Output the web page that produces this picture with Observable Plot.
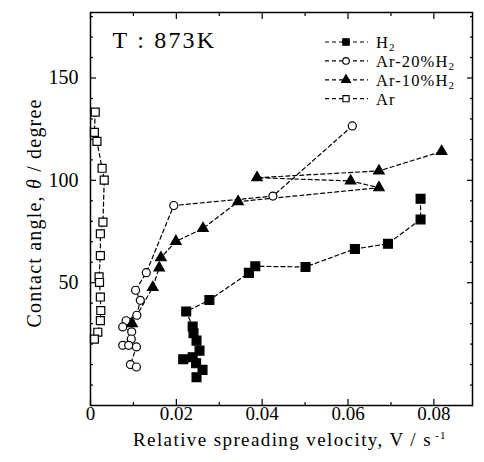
<!DOCTYPE html>
<html><head><meta charset="utf-8">
<script src="https://cdn.jsdelivr.net/npm/d3@7"></script>
<script src="https://cdn.jsdelivr.net/npm/@observablehq/plot@0.6"></script>
<style>body{margin:0;background:#fff} svg{display:block}</style>
</head><body><div id="chart"></div>
<script>
// ---- data ----
const seriesNames = ["H2", "Ar-20%H2", "Ar-10%H2", "Ar"];

const h2X = [0.0769, 0.0769, 0.0693, 0.0616, 0.0501, 0.0384, 0.0369, 0.0277, 0.0223, 0.0238, 0.0240, 0.0247, 0.0254, 0.0238, 0.0216, 0.0246, 0.0261, 0.0247];
const h2Y = [91.0, 80.9, 69.0, 66.5, 57.7, 58.0, 54.8, 41.5, 35.9, 28.6, 25.3, 21.7, 16.8, 13.6, 12.6, 10.6, 7.4, 3.8];

const ar20X = [0.0610, 0.0425, 0.0194, 0.0130, 0.0105, 0.0116, 0.0108, 0.0083, 0.0075, 0.0096, 0.0095, 0.0075, 0.0089, 0.0107, 0.0093, 0.0107];
const ar20Y = [126.6, 92.3, 87.7, 54.9, 46.3, 41.4, 34.1, 31.4, 28.4, 26.0, 22.5, 19.4, 19.4, 18.6, 10.0, 8.8];

const ar10X = [0.0097, 0.0145, 0.0160, 0.0164, 0.0199, 0.0262, 0.0344, 0.0672, 0.0606, 0.0388, 0.0672, 0.0818];
const ar10Y = [30.0, 47.7, 57.2, 62.2, 70.2, 76.5, 89.6, 96.4, 99.7, 101.3, 104.6, 114.1];

const arX = [0.0011, 0.0009, 0.0015, 0.0027, 0.0032, 0.0029, 0.0023, 0.0023, 0.0020, 0.0021, 0.0023, 0.0024, 0.0023, 0.0017, 0.0009];
const arY = [133.3, 123.4, 119.0, 105.9, 100.1, 79.6, 73.9, 63.2, 52.8, 50.1, 43.0, 36.4, 31.5, 25.8, 22.4];

const xMajor = [0, 0.02, 0.04, 0.06, 0.08];
const xTickLabels = ["0", "0.02", "0.04", "0.06", "0.08"];
const xMinor = [0.01, 0.03, 0.05, 0.07];
const yMajor = [50, 100, 150];
const yTickLabels = ["50", "100", "150"];
const yMinor = [-10, 0, 10, 20, 30, 40, 60, 70, 80, 90, 110, 120, 130, 140, 160, 170, 180];

const tempLabel = "T : 873K";
const xTitle = "Relative spreading velocity, V / s";
const yTitleA = "Contact angle, ", yTitleTheta = "θ", yTitleB = " / degree";

// ---- build table ----
const data = [];
function add(name, xs, ys) { xs.forEach((x, i) => data.push({series: name, x, y: ys[i]})); }
add("H2", h2X, h2Y);
add("Ar-20%H2", ar20X, ar20Y);
add("Ar-10%H2", ar10X, ar10Y);
add("Ar", arX, arY);

const styles = {
  "H2": {symbol: "square", fill: "black", r: 5},
  "Ar-20%H2": {symbol: "circle", fill: "white", r: 4},
  "Ar-10%H2": {symbol: "triangle", fill: "black", r: 3.9},
  "Ar": {symbol: "square", fill: "white", r: 4.5}
};

const FONT = '"Liberation Serif", "Times New Roman", serif';

const marks = [
  Plot.line(data, {x: "x", y: "y", z: "series", stroke: "black", strokeWidth: 1.2, strokeDasharray: "4,3"}),
  ...seriesNames.map(s => Plot.dot(data.filter(d => d.series === s), {
    x: "x", y: "y", symbol: styles[s].symbol, r: styles[s].r, fill: styles[s].fill, stroke: "black", strokeWidth: 1.2
  })),
  // tick labels
  Plot.axisX({ticks: xMajor, tickSize: 0, tickPadding: 1, fontSize: 19, tickFormat: d => xTickLabels[xMajor.indexOf(d)], label: null}),
  Plot.axisY({ticks: yMajor, tickSize: 0, tickPadding: 12, fontSize: 20, tickFormat: d => yTickLabels[yMajor.indexOf(d)], label: null}),
  // inward ticks, all four sides
  Plot.axisX({ticks: xMajor, tickSize: -6, tickFormat: () => "", label: null, strokeWidth: 1.2}),
  Plot.axisX({ticks: xMinor, tickSize: -3, tickFormat: () => "", label: null, strokeWidth: 1.2}),
  Plot.axisX({anchor: "top", ticks: xMajor, tickSize: -6, tickFormat: () => "", label: null, strokeWidth: 1.2}),
  Plot.axisX({anchor: "top", ticks: xMinor, tickSize: -3, tickFormat: () => "", label: null, strokeWidth: 1.2}),
  Plot.axisY({ticks: yMajor, tickSize: -6, tickFormat: () => "", label: null, strokeWidth: 1.2}),
  Plot.axisY({ticks: yMinor, tickSize: -3, tickFormat: () => "", label: null, strokeWidth: 1.2}),
  Plot.axisY({anchor: "right", ticks: yMajor, tickSize: -6, tickFormat: () => "", label: null, strokeWidth: 1.2}),
  Plot.axisY({anchor: "right", ticks: yMinor, tickSize: -3, tickFormat: () => "", label: null, strokeWidth: 1.2}),
  Plot.frame({stroke: "black", strokeWidth: 1.5}),
  Plot.text([tempLabel], {frameAnchor: "top-left", dx: 22, dy: 28, text: d => d, textAnchor: "start", lineAnchor: "middle", fontSize: 24, fill: "black"})
];

const chart = Plot.plot({
  width: 484, height: 462,
  marginLeft: 90, marginRight: 12, marginTop: 12, marginBottom: 57,
  x: {domain: [0, 0.089]},
  y: {domain: [-10, 182]},
  style: {fontFamily: FONT, fontSize: "20px", background: "white", color: "black"},
  marks
});
document.getElementById("chart").appendChild(chart);

// ---- legend, axis titles ----
const svg = d3.select(chart);
svg.selectAll("text").filter(function(){ return this.textContent === tempLabel; }).attr("letter-spacing", 2.2);

const lg = svg.append("g").attr("font-family", FONT).attr("font-size", 16.5).attr("fill", "black").attr("text-anchor", "start");
const legendSize = {"H2": 42, "Ar-20%H2": 34, "Ar-10%H2": 34, "Ar": 38};
const symMap = {square: d3.symbolSquare, circle: d3.symbolCircle, triangle: d3.symbolTriangle};
seriesNames.forEach((s, i) => {
  const cy = 42 + i * 18.9;
  lg.append("line").attr("x1", 325).attr("x2", 368).attr("y1", cy).attr("y2", cy)
    .attr("stroke", "black").attr("stroke-width", 1.2).attr("stroke-dasharray", "4,3");
  lg.append("path").attr("transform", `translate(346,${cy})`)
    .attr("d", d3.symbol(symMap[styles[s].symbol], legendSize[s])())
    .attr("fill", styles[s].fill).attr("stroke", "black").attr("stroke-width", 1.1);
  const t = lg.append("text").attr("x", 376).attr("y", cy + 6).attr("letter-spacing", 1.1);
  if (s.endsWith("H2")) {
    t.append("tspan").text(s.slice(0, -1));
    t.append("tspan").attr("font-size", 11).attr("dy", 3).text("2");
  } else {
    t.text(s);
  }
});

const xt = svg.append("text").attr("x", 290).attr("y", 446).attr("text-anchor", "middle")
  .attr("font-family", FONT).attr("font-size", 19).attr("letter-spacing", 1.4).attr("fill", "black");
xt.append("tspan").text(xTitle);
xt.append("tspan").attr("font-size", 11).attr("dy", -7).attr("dx", 3).text("-1");

const yt = svg.append("text").attr("transform", "translate(41,213) rotate(-90)").attr("text-anchor", "middle")
  .attr("font-family", FONT).attr("font-size", 20).attr("letter-spacing", 1.2).attr("fill", "black");
yt.append("tspan").text(yTitleA);
yt.append("tspan").attr("font-style", "italic").text(yTitleTheta);
yt.append("tspan").text(yTitleB);
</script>
</body></html>
